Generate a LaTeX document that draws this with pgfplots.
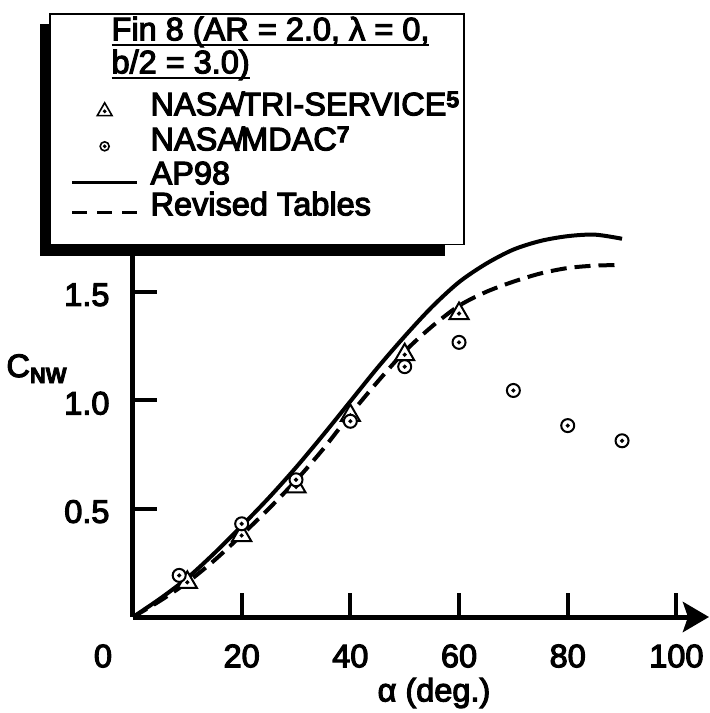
\documentclass[border=0pt]{standalone}
\usepackage{fontspec}
\setmainfont{Liberation Sans}[FakeBold=3.5]
\usepackage{pgfplots}
\pgfplotsset{compat=1.18}
\usetikzlibrary{arrows.meta,backgrounds}

% open triangle with a centre dot
\pgfdeclareplotmark{tridot}{%
  \pgfpathmoveto{\pgfqpoint{0pt}{\pgfplotmarksize}}%
  \pgfpathlineto{\pgfqpointpolar{-30}{\pgfplotmarksize}}%
  \pgfpathlineto{\pgfqpointpolar{210}{\pgfplotmarksize}}%
  \pgfpathclose
  \pgfusepathqfillstroke
  \pgfpathcircle{\pgfpointorigin}{0.9pt}%
  \pgfusepathqstroke
}
% open circle with a centre dot
\pgfdeclareplotmark{circdot}{%
  \pgfpathcircle{\pgfpointorigin}{\pgfplotmarksize}%
  \pgfusepathqfillstroke
  \pgfpathcircle{\pgfpointorigin}{0.9pt}%
  \pgfusepathqstroke
}

\newcommand\bigfont{\fontsize{32.5}{36}\selectfont}
% row strut: height #1, depth #2
\newcommand\hd[2]{\rule[-#2]{0pt}{\dimexpr#1+#2\relax}}
\newcommand\refmark[1]{\raisebox{8pt}{\fontsize{23}{23}\selectfont\bfseries #1}}
% heavy underline
\newcommand\ul[1]{\setbox0\hbox{#1}\rlap{\rule[-6pt]{\wd0}{2.2pt}}\box0}

\begin{document}
\begin{tikzpicture}
\begin{axis}[
  at={(0,0)}, anchor=origin,
  scale only axis, width=576pt, height=401pt,
  xmin=0, xmax=106, ymin=0, ymax=1.85,
  axis lines=left,
  axis line style={line width=5pt},
  x axis line style={-{Stealth[length=26pt,width=30pt,inset=5pt]}},
  y axis line style={-},
  xtick={20,40,60,80,100},
  ytick={0.5,1,1.5},
  extra x ticks={0}, extra x tick labels={0},
  extra x tick style={major tick length=0pt, xticklabel style={xshift=-30pt}},
  tick align=inside,
  major tick length=24pt,
  tick style={line width=4pt, black},
  /pgf/number format/assume math mode=true,
  tick label style={font=\bigfont},
  xticklabel style={yshift=-24pt},
  yticklabel style={xshift=-20pt, yshift=-3pt},
  yticklabel={\pgfmathprintnumber[fixed,fixed zerofill,precision=1]{\tick}},
  xlabel={α (deg.)},
  every axis x label/.style={at={(axis description cs:0.5226,-0.1895)}, anchor=center, font=\bigfont},
  ylabel={C\raisebox{-6pt}{\fontsize{22}{22}\selectfont\bfseries NW}},
  every axis y label/.style={at={(axis description cs:-0.1675,0.5985)}, anchor=base, font=\bigfont},
  legend cell align=left,
  legend image code/.code={\draw[mark repeat=2,mark phase=2,#1] plot coordinates {(0pt,4pt) (32.5pt,4pt) (65pt,4pt)};},
  legend style={
    name=leg,
    at={(axis description cs:-0.1458,1.5062)}, anchor=north west,
    draw=black, line width=1.5pt, fill=white,
    font=\bigfont,
    inner xsep=21pt, inner ysep=3pt,
    row sep=0pt, column sep=12pt,
    nodes={inner sep=0pt, anchor=base west, text depth=},
  },
]

% legend rows
\addlegendimage{empty legend}
\addlegendentry{\hspace*{-39pt}\ul{Fin 8 (AR = 2.0, λ = 0,}\hd{23pt}{8pt}}
\addlegendimage{empty legend}
\addlegendentry{\hspace*{-39pt}\ul{b/2 = 3.0)}\hd{25pt}{12pt}}
\addlegendimage{only marks, mark=tridot, mark size=8.5pt, mark options={line width=1.6pt, fill=white, draw=black}}
\addlegendentry{NASA\kern-3.5pt/\kern-3.5pt TRI-SERVICE\refmark{5}\hspace*{-16pt}\hd{30pt}{9pt}}
\addlegendimage{only marks, mark=circdot, mark size=4.5pt, mark options={line width=1.6pt, fill=white, draw=black}}
\addlegendentry{NASA\kern-3.5pt/\kern-3.5pt MDAC\refmark{7}\hd{26pt}{9pt}}
\addlegendimage{black, line width=2.8pt, yshift=-2pt}
\addlegendentry{AP98\hd{25pt}{7pt}}
\addlegendimage{black, line width=2.5pt, dash pattern=on 15pt off 10pt, yshift=-1pt}
\addlegendentry{Revised Tables\hd{24pt}{26pt}}

% AP98 prediction
\addplot[forget plot, black, line width=4pt, smooth] coordinates {
  (0,0) (5,0.085) (10,0.18) (15,0.295) (20,0.42) (25,0.55) (30,0.69)
  (35,0.84) (40,0.995) (45,1.15) (50,1.295) (55,1.43) (60,1.545)
  (65,1.63) (70,1.695) (75,1.735) (80,1.757) (85,1.764) (90,1.745)
};
% Revised tables
\addplot[forget plot, black, line width=4pt, dash pattern=on 16pt off 8pt, smooth] coordinates {
  (0,0) (5,0.075) (10,0.16) (15,0.262) (20,0.378) (25,0.50) (30,0.63)
  (35,0.775) (40,0.935) (45,1.085) (50,1.225) (55,1.34) (60,1.436)
  (65,1.50) (70,1.547) (75,1.585) (80,1.61) (85,1.621) (90,1.624)
};
% NASA/TRI-SERVICE data
\addplot[forget plot, only marks, mark=tridot, mark size=11pt, mark options={line width=2pt, fill=white, draw=black}] coordinates {
  (10,0.16) (20,0.376) (30,0.60) (40,0.93) (50,1.21) (60,1.40)
};
% NASA/MDAC data
\addplot[forget plot, only marks, mark=circdot, mark size=6.5pt, mark options={line width=2pt, fill=white, draw=black}] coordinates {
  (8.5,0.192) (20,0.43) (30,0.633) (40,0.903) (50,1.155) (60,1.267)
  (70,1.045) (80,0.883) (90,0.813)
};
\end{axis}
% offset shadow behind the legend box
\begin{pgfonlayer}{background}
  \fill[black] ([shift={(-9pt,-11pt)}]leg.south west) rectangle ([shift={(-20pt,-11pt)}]leg.north east);
\end{pgfonlayer}
\pgfresetboundingbox
\useasboundingbox (-133pt,-96pt) rectangle (577pt,617pt);
\end{tikzpicture}
\end{document}
